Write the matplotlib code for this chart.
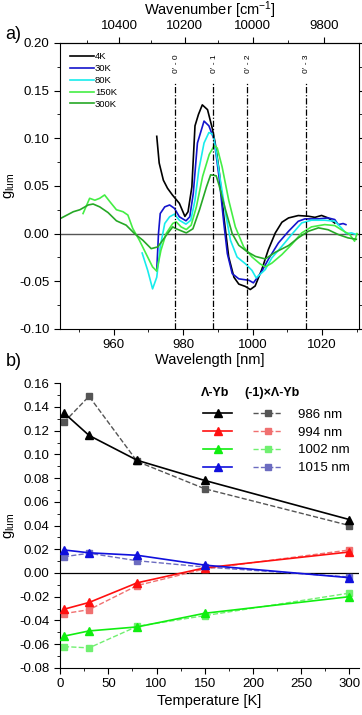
import matplotlib
matplotlib.use("Agg")
import matplotlib.pyplot as plt
from matplotlib.ticker import MultipleLocator, FixedLocator
from matplotlib.lines import Line2D

plt.rcParams['font.family'] = ['Liberation Sans', 'DejaVu Sans']
plt.rcParams['mathtext.fontset'] = 'custom'
plt.rcParams['mathtext.rm'] = 'Liberation Sans'
plt.rcParams['mathtext.it'] = 'Liberation Sans'

# ---- panel a: spectra (wavelength nm, g_lum)
wl_4K = [972.4, 973.1, 974.3, 975.5, 976.9, 978.9, 980.5, 981.4, 982.5, 983.4, 984.4, 985.5,
         987.0, 988.4, 989.2, 990.3, 991.7, 993.1, 994.6, 996.0, 997.9, 999.3, 1000.7, 1002.6,
         1004.5, 1006.5, 1008.4, 1010.3, 1013.1, 1016.0, 1017.9, 1019.8, 1021.7, 1023.6]
g_4K = [0.102, 0.074, 0.056, 0.0475, 0.0405, 0.0317, 0.018, 0.0229, 0.049, 0.113, 0.125, 0.135,
        0.130, 0.110, 0.095, 0.067, 0.0176, -0.0246, -0.0458, -0.053, -0.0555, -0.0587, -0.055, -0.0378,
        -0.0168, 0.0007, 0.0119, 0.0164, 0.0189, 0.0182, 0.017, 0.019, 0.0164, 0.011]

wl_30K = [972.4, 972.9, 973.4, 974.7, 976.1, 977.5, 978.9, 980.8, 981.9, 982.9, 984.1, 986.0,
          987.4, 988.9, 990.3, 991.7, 992.7, 994.1, 996.0, 998.9, 1000.2, 1002.4, 1004.5, 1007.4,
          1010.3, 1013.1, 1015.0, 1018.8, 1021.7, 1023.6, 1024.6, 1026.0, 1026.8]
g_30K = [-0.0387, 0.0, 0.021, 0.028, 0.030, 0.0264, 0.0176, 0.0134, 0.0176, 0.042, 0.095, 0.118,
         0.113, 0.0986, 0.060, 0.0106, -0.021, -0.042, -0.0475, -0.049, -0.0517, -0.041, -0.027, -0.0098,
         0.0024, 0.0129, 0.0154, 0.0154, 0.0164, 0.0147, 0.0094, 0.0105, 0.0094]

wl_80K = [968.2, 969.8, 971.2, 972.4, 973.4, 974.7, 976.1, 977.5, 978.9, 980.8, 982.2, 983.4,
          984.5, 986.0, 987.4, 988.6, 989.3, 990.7, 992.2, 993.6, 995.5, 997.9, 999.8, 1001.0,
          1003.6, 1005.5, 1008.4, 1011.2, 1014.1, 1016.9, 1020.7, 1023.6, 1025.5, 1026.9, 1028.4,
          1029.8]
g_80K = [-0.0204, -0.0387, -0.058, -0.0458, -0.014, 0.0106, 0.0176, 0.0204, 0.014, 0.0099, 0.014, 0.035,
         0.067, 0.095, 0.106, 0.104, 0.0898, 0.056, 0.021, -0.007, -0.0246, -0.0317, -0.0387, -0.0465,
         -0.0378, -0.0255, -0.0133, -0.001, 0.0112, 0.014, 0.014, 0.013, 0.006, 0.0, 0.0007,
         -0.001]

wl_150K = [951.2, 953.1, 954.6, 956.0, 957.4, 958.9, 960.8, 962.7, 964.1, 965.5, 967.4, 969.3,
           971.2, 972.4, 973.6, 975.1, 977.0, 978.0, 979.4, 980.9, 982.3, 983.8, 985.6, 987.5,
           988.9, 989.8, 991.2, 993.1, 995.0, 997.4, 999.8, 1002.1, 1003.6, 1005.5, 1008.4,
           1011.2, 1014.1, 1016.9, 1020.7, 1023.6, 1025.5, 1027.9, 1029.3, 1030.0]
g_150K = [0.021, 0.037, 0.035, 0.037, 0.0405, 0.0335, 0.025, 0.0229, 0.0194, 0.0053, -0.007, -0.021,
          -0.035, -0.0394, -0.0176, 0.0, 0.0106, 0.0123, 0.007, 0.0042, 0.0088, 0.028, 0.060, 0.083,
          0.092, 0.0898, 0.070, 0.035, 0.007, -0.014, -0.0246, -0.0317, -0.035, -0.031, -0.022,
          -0.0115, 0.0007, 0.007, 0.0094, 0.0084, 0.004, -0.001, -0.008, 0.0]

wl_300K = [944.8, 948.4, 950.3, 952.7, 954.1, 956.0, 958.4, 960.8, 963.6, 966.0, 968.4, 970.8,
           972.7, 975.1, 977.0, 978.0, 980.9, 982.8, 984.7, 986.7, 987.9, 989.5, 990.3, 992.2,
           994.1, 996.0, 998.4, 1000.8, 1003.6, 1006.5, 1010.3, 1013.1, 1016.0, 1018.9, 1021.7,
           1024.6, 1027.4, 1029.8]
g_300K = [0.016, 0.0229, 0.025, 0.030, 0.031, 0.028, 0.022, 0.0134, 0.0088, 0.0, -0.007, -0.0158,
          -0.014, -0.002, 0.007, 0.005, 0.0007, 0.005, 0.025, 0.049, 0.0616, 0.0606, 0.051, 0.0246,
          0.0, -0.0123, -0.019, -0.024, -0.0266, -0.0196, -0.0126, -0.0045, 0.0024, 0.006, 0.004,
          -0.001, -0.0045, -0.006]

spec_labels = ['4K', '30K', '80K', '150K', '300K']
spec_colors = ['black', '#1414cc', '#18ecec', '#44ee44', '#26a826']

transitions = [977.7, 988.6, 998.4, 1015.2]
trans_labels = ["0' - 0", "0' - 1", "0' - 2", "0' - 3"]

# ---- panel b: g_lum vs temperature
temps = [4, 30, 80, 150, 300]
lam_986 = [0.135, 0.116, 0.095, 0.078, 0.045]
lam_994 = [-0.0306, -0.0249, -0.0083, 0.0043, 0.0177]
lam_1002 = [-0.0533, -0.0489, -0.0455, -0.034, -0.020]
lam_1015 = [0.0194, 0.017, 0.0149, 0.0066, -0.004]
inv_986 = [0.127, 0.149, 0.094, 0.071, 0.040]
inv_994 = [-0.0343, -0.031, -0.0106, 0.0034, 0.0194]
inv_1002 = [-0.0621, -0.0632, -0.045, -0.036, -0.017]
inv_1015 = [0.0137, 0.0166, 0.0103, 0.005, -0.0034]
band_labels = ['986 nm', '994 nm', '1002 nm', '1015 nm']
solid_colors = ['black', '#ff1010', '#10ee10', '#1010dd']
dash_colors = ['#555555', '#f07070', '#70f070', '#6c6cc0']

fig = plt.figure(figsize=(3.62, 7.15), dpi=100)
ax1 = fig.add_axes([0.166, 0.540, 0.826, 0.400])
ax2 = fig.add_axes([0.166, 0.066, 0.826, 0.398])

# panel a
ax1.axhline(0, color='#555555', lw=1.0, zorder=1)
for wl, g, lab, c in zip([wl_4K, wl_30K, wl_80K, wl_150K, wl_300K],
                         [g_4K, g_30K, g_80K, g_150K, g_300K], spec_labels, spec_colors):
    ax1.plot(wl, g, color=c, lw=1.2, label=lab, zorder=2)
for x, t in zip(transitions, trans_labels):
    ax1.plot([x, x], [-0.10, 0.159], color='black', lw=0.9, ls=(0, (5, 1.5, 1, 1.5)), zorder=3)
    ax1.text(x + 0.3, 0.178, t, rotation=90, fontsize=6, ha='center', va='center')
ax1.set_xlim(944.6, 1030.6)
ax1.set_ylim(-0.10, 0.20)
ax1.xaxis.set_major_locator(MultipleLocator(20))
ax1.xaxis.set_minor_locator(MultipleLocator(10))
ax1.yaxis.set_major_locator(MultipleLocator(0.05))
ax1.yaxis.set_minor_locator(MultipleLocator(0.025))
ax1.yaxis.set_major_formatter(matplotlib.ticker.FormatStrFormatter('%.2f'))
ax1.tick_params(axis='both', which='both', direction='out', labelsize=9.5)
ax1.tick_params(which='major', length=4)
ax1.tick_params(which='minor', length=2.5)
ax1.tick_params(axis='y', which='both', right=True)
ax1.set_xlabel('Wavelength [nm]', fontsize=10.5, labelpad=1)
ax1.set_ylabel('g$_{\\mathrm{lum}}$', fontsize=10.5, labelpad=2)
ax1.legend(loc='upper left', fontsize=6.8, frameon=False, handlelength=2.6,
           handletextpad=0.1, labelspacing=0.3, borderaxespad=0.6)

top = ax1.secondary_xaxis('top', functions=(lambda x: 1e7 / x, lambda x: 1e7 / x))
top.xaxis.set_major_locator(FixedLocator([10400, 10200, 10000, 9800]))
top.xaxis.set_minor_locator(FixedLocator([10500, 10300, 10100, 9900, 9700]))
top.tick_params(which='both', direction='out', labelsize=9.5)
top.tick_params(which='major', length=4)
top.tick_params(which='minor', length=2.5)
top.set_xlabel('Wavenumber [cm$^{-1}$]', fontsize=10.5, labelpad=4)

# panel b
ax2.axhline(0, color='black', lw=0.9, zorder=1)
inv = [inv_986, inv_994, inv_1002, inv_1015]
lam = [lam_986, lam_994, lam_1002, lam_1015]
for vals, c in zip(inv, dash_colors):
    ax2.plot(temps, vals, color=c, ls='--', lw=1.0, marker='s', ms=4.5, zorder=2)
for vals, c in zip(lam, solid_colors):
    ax2.plot(temps, vals, color=c, ls='-', lw=1.2, marker='^', ms=6, zorder=3)
ax2.set_xlim(0, 310)
ax2.set_ylim(-0.08, 0.16)
ax2.xaxis.set_major_locator(MultipleLocator(50))
ax2.xaxis.set_minor_locator(MultipleLocator(25))
ax2.yaxis.set_major_locator(MultipleLocator(0.02))
ax2.yaxis.set_minor_locator(MultipleLocator(0.01))
ax2.yaxis.set_major_formatter(matplotlib.ticker.FormatStrFormatter('%.2f'))
ax2.spines['top'].set_visible(False)
ax2.spines['right'].set_visible(False)
ax2.tick_params(axis='both', which='both', direction='out', labelsize=9.5)
ax2.tick_params(which='major', length=4)
ax2.tick_params(which='minor', length=2.5)
ax2.set_xlabel('Temperature [K]', fontsize=10.5, labelpad=3)
ax2.set_ylabel('g$_{\\mathrm{lum}}$', fontsize=10.5, labelpad=2)

# custom legend for panel b
solid_h = [Line2D([], [], color=c, lw=1.2, marker='^', ms=6) for c in solid_colors]
dash_h = [Line2D([], [], color=c, lw=1.0, ls='--', marker='s', ms=4.5) for c in dash_colors]
fig.text(0.595, 0.450, '\u039b-Yb', fontsize=9, fontweight='bold', ha='center', va='center')
fig.text(0.752, 0.450, '(-1)\u00d7\u039b-Yb', fontsize=9, fontweight='bold', ha='center', va='center')
leg = ax2.legend(solid_h + dash_h, [''] * 4 + band_labels, ncol=2, loc='upper left',
                 bbox_to_anchor=(0.478, 0.911), frameon=False, fontsize=9.5,
                 handlelength=2.2, handletextpad=1.2, columnspacing=0.4,
                 labelspacing=0.42, borderaxespad=0, borderpad=0)

fig.text(0.015, 0.945, 'a)', fontsize=13)
fig.text(0.015, 0.488, 'b)', fontsize=13)

fig.savefig('out.png', dpi=100)
